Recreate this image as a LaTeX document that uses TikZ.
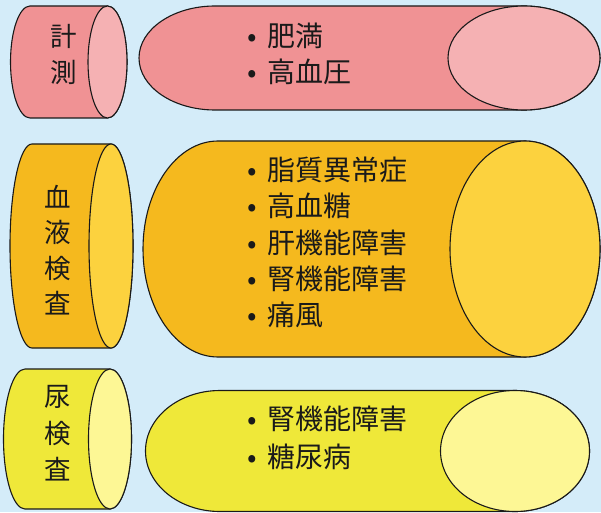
\documentclass[tikz,border=0pt]{standalone}
\usepackage{fontspec}
\newfontfamily\jp{Noto Sans CJK JP}
\definecolor{bg}{HTML}{D4ECF9}
\definecolor{redbody}{HTML}{F09294}
\definecolor{redface}{HTML}{F5B1B3}
\definecolor{orabody}{HTML}{F5B91E}
\definecolor{oraface}{HTML}{FCD23E}
\definecolor{yelbody}{HTML}{EFE839}
\definecolor{yelface}{HTML}{FDF795}
\definecolor{ink}{HTML}{1A1A1A}
\newcommand{\mycyl}[7]{%
  \filldraw[cylline, fill=#6] (#1,#3+#5) -- (#2,#3+#5)
    arc[start angle=90, end angle=-90, x radius=#4, y radius=#5]
    -- (#1,#3-#5)
    arc[start angle=270, end angle=90, x radius=#4, y radius=#5] -- cycle;
  \filldraw[cylline, fill=#7] (#2,#3) ellipse[x radius=#4, y radius=#5];
}
\newcommand{\bl}{\makebox[21pt][l]{\hspace{1.5pt}•}}
\tikzset{
  cylline/.style={draw=black!90, line width=1.1pt},
  vlabel/.style={font=\jp\fontsize{26.5}{36}\selectfont, text=ink, align=center, inner sep=0pt},
  blist/.style={font=\jp\fontsize{28}{36.3}\selectfont, text=ink, align=left, inner sep=0pt, anchor=west},
}
\begin{document}
\begin{tikzpicture}[x=1pt,y=1pt]
\fill[bg] (0,0) rectangle (601,512);
\useasboundingbox (0,0) rectangle (601,512);
\clip (0,0) rectangle (601,512);
% row 1
\mycyl{30}{107.5}{450}{19.5}{56}{redbody}{redface}
\mycyl{215}{524}{454}{76}{52}{redbody}{redface}
% row 2
\mycyl{32}{111}{266}{22}{102}{orabody}{oraface}
\mycyl{218}{525}{263}{75}{108}{orabody}{oraface}
% row 3
\mycyl{25}{110}{73}{21.5}{70}{yelbody}{yelface}
\mycyl{220}{515}{61}{74.5}{60.5}{yelbody}{yelface}
% labels
\node[vlabel] (l1) at (63.5,457.5) {計\\測};
\node[vlabel, font=\jp\fontsize{26.5}{35.3}\selectfont] (l2) at (58,262) {血\\液\\検\\査};
\node[vlabel, font=\jp\fontsize{26.5}{36.5}\selectfont] (l3) at (58,78.5) {尿\\検\\査};
% lists
\node[blist] (t1) at (246,458) {\bl 肥満\\\bl 高血圧};
\node[blist] (t2) at (246,269.5) {\bl 脂質異常症\\\bl 高血糖\\\bl 肝機能障害\\\bl 腎機能障害\\\bl 痛風};
\node[blist, font=\jp\fontsize{28}{38}\selectfont] (t3) at (246,74.5) {\bl 腎機能障害\\\bl 糖尿病};
\end{tikzpicture}
\end{document}
